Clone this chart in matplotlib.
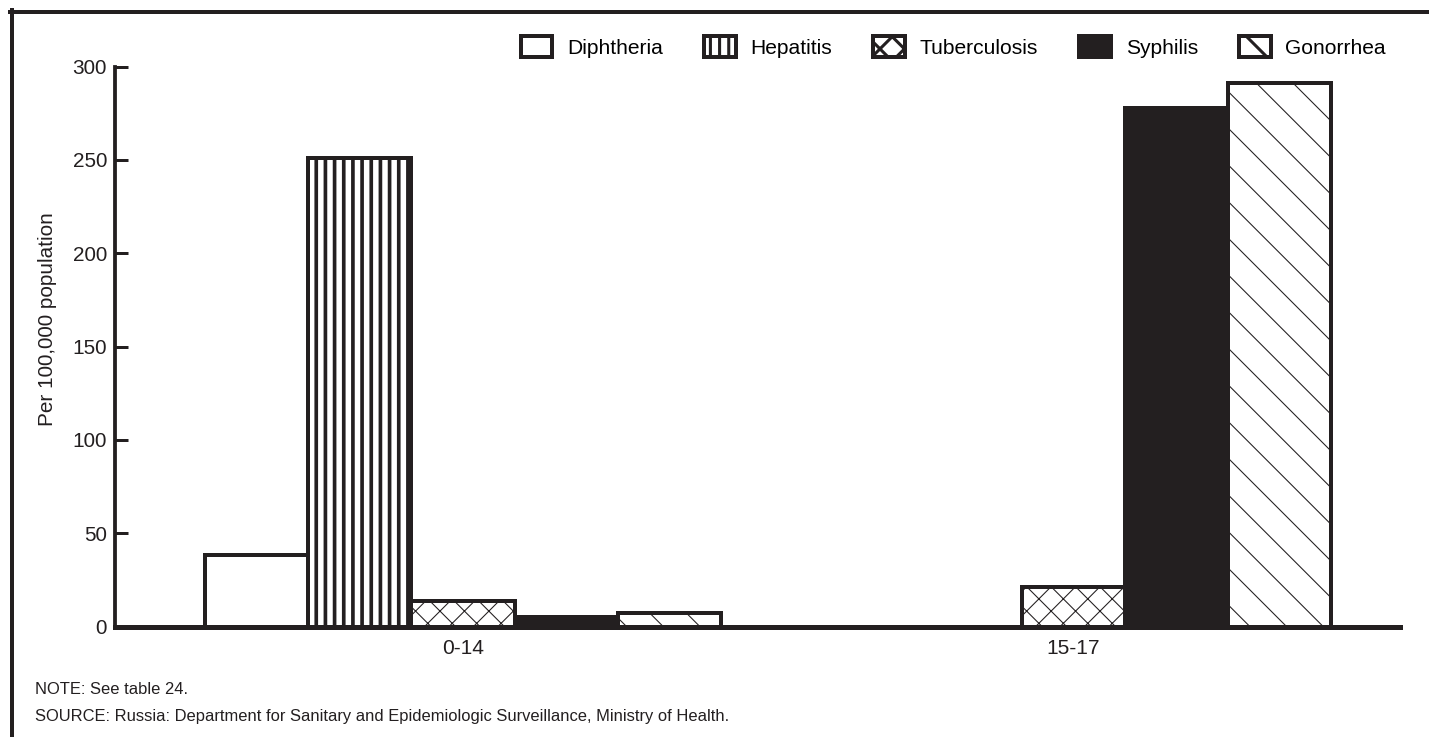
import numpy as np
import matplotlib
matplotlib.use('Agg')
import matplotlib.pyplot as plt
from matplotlib.lines import Line2D

plt.rcParams['font.family'] = ['Liberation Sans', 'DejaVu Sans']

INK = '#231f20'
DPI = 220

# data (per 100,000 population)
groups = ['0-14', '15-17']
diseases = ['Diphtheria', 'Hepatitis', 'Tuberculosis', 'Syphilis', 'Gonorrhea']
diphtheria = [38.5, 0]
hepatitis = [251, 0]
tuberculosis = [13.5, 21]
syphilis = [5, 278]
gonorrhea = [7.5, 291]
yticks = [0, 50, 100, 150, 200, 250, 300]

series = [diphtheria, hepatitis, tuberculosis, syphilis, gonorrhea]
fills = ['white', 'white', 'white', INK, 'white']
hatches = ['', '||||', 'xxx', '', '\\\\']
hatch_lw = [0.5, 1.2, 0.35, 0.5, 0.35]

def px(v):
    # pixels -> points at the output dpi
    return v * 72.0 / DPI

fig = plt.figure(figsize=(1429 / DPI, 737 / DPI), dpi=DPI)
ax = fig.add_axes([115 / 1429, 110.5 / 737, 1285 / 1429, 560 / 737])

x = np.arange(len(groups))
width = 0.169
for i, (name, vals) in enumerate(zip(diseases, series)):
    with plt.rc_context({'hatch.linewidth': hatch_lw[i], 'hatch.color': INK}):
        bars = ax.bar(x + (i - 2) * width, vals, width, color=fills[i],
                      edgecolor=INK, linewidth=px(4), hatch=hatches[i],
                      label=name)
        for b in bars:
            if hasattr(b, 'set_hatch_linewidth'):
                b.set_hatch_linewidth(hatch_lw[i])

ax.set_xlim(-0.570, 1.535)
ax.set_ylim(0, 300)
ax.set_yticks(yticks)
ax.set_xticks(x)
ax.set_xticklabels(groups)

for s in ['top', 'right']:
    ax.spines[s].set_visible(False)
ax.spines['left'].set_linewidth(px(3.8))
ax.spines['bottom'].set_linewidth(px(5))
ax.spines['left'].set_color(INK)
ax.spines['bottom'].set_color(INK)

ax.tick_params(axis='y', direction='in', length=px(13), width=px(3),
               pad=px(8), labelsize=6.8, colors=INK)
ax.tick_params(axis='x', length=0, pad=px(12), labelsize=6.9, colors=INK)

ax.set_ylabel('Per 100,000 population', fontsize=6.8, color=INK)
ax.yaxis.set_label_coords(-0.0455, 0.548)

fig.legend(loc='center right', bbox_to_anchor=(1386 / 1429, 1 - 47 / 737),
           ncol=5, frameon=False, fontsize=6.9, handlelength=1.5,
           handleheight=1.1, handletextpad=0.7, columnspacing=1.95,
           borderpad=0, borderaxespad=0)

# open frame round the figure (top and left only)
fig.add_artist(Line2D([10 / 1429, 1], [1 - 11.5 / 737] * 2,
                      transform=fig.transFigure, lw=px(4), color=INK))
fig.add_artist(Line2D([11.5 / 1429] * 2, [0, 1 - 10 / 737],
                      transform=fig.transFigure, lw=px(4), color=INK))

fig.text(35 / 1429, 1 - 689 / 737, 'NOTE: See table 24.', fontsize=5.4,
         va='center', color=INK)
fig.text(35 / 1429, 1 - 716 / 737,
         'SOURCE: Russia: Department for Sanitary and Epidemiologic '
         'Surveillance, Ministry of Health.', fontsize=5.4, va='center',
         color=INK)

fig.savefig('out.png', dpi=DPI)
